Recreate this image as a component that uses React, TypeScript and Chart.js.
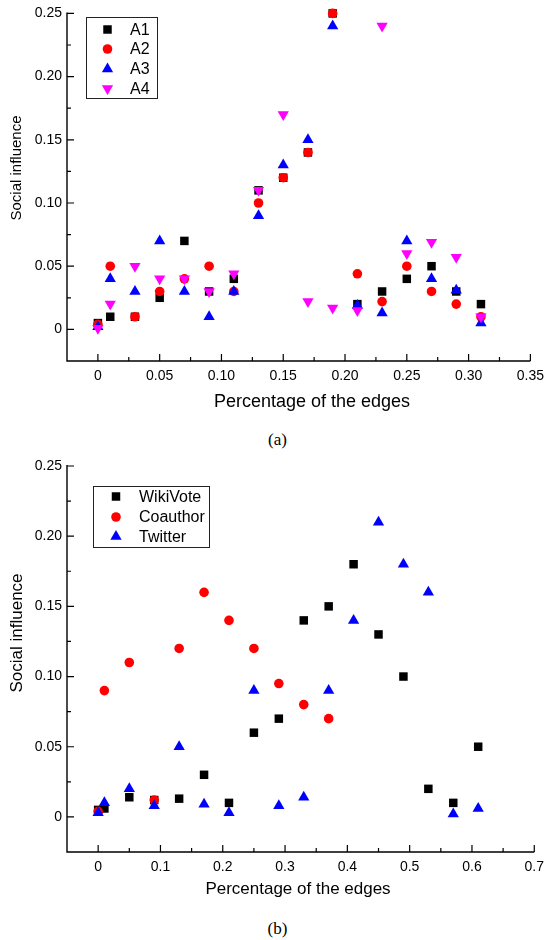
import React, { useEffect, useRef } from "react";
import { Chart, registerables } from "chart.js";
Chart.register(...registerables);

const SANS = "'Liberation Sans', Arial, Helvetica, sans-serif";
const SERIF = "'Liberation Serif', 'Times New Roman', serif";

// ---------- Panel (a) data ----------
const edgesA = [0, 0.01, 0.03, 0.05, 0.07, 0.09, 0.11, 0.13, 0.15, 0.17, 0.19, 0.21, 0.23, 0.25, 0.27, 0.29, 0.31];
const seriesA1 = [0.005, 0.01, 0.01, 0.025, 0.07, 0.03, 0.04, 0.11, 0.12, 0.14, 0.25, 0.02, 0.03, 0.04, 0.05, 0.03, 0.02];
const seriesA2 = [0.004, 0.05, 0.01, 0.03, 0.04, 0.05, 0.03, 0.10, 0.12, 0.14, 0.25, 0.044, 0.022, 0.05, 0.03, 0.02, 0.01];
const seriesA3 = [0.002, 0.04, 0.03, 0.07, 0.03, 0.01, 0.03, 0.09, 0.13, 0.15, 0.24, 0.019, 0.013, 0.07, 0.04, 0.031, 0.005];
const seriesA4 = [0.001, 0.02, 0.05, 0.04, 0.04, 0.03, 0.044, 0.11, 0.17, 0.022, 0.017, 0.015, 0.24, 0.06, 0.069, 0.057, 0.01];
const namesA = ["A1", "A2", "A3", "A4"];
const xTicksA = ["0", "0.05", "0.10", "0.15", "0.20", "0.25", "0.30", "0.35"];

// ---------- Panel (b) data ----------
const edgesB = [0, 0.01, 0.05, 0.09, 0.13, 0.17, 0.21, 0.25, 0.29, 0.33, 0.37, 0.41, 0.45, 0.49, 0.53, 0.57, 0.61];
const wikiVote = [0.005, 0.006, 0.014, 0.012, 0.013, 0.03, 0.01, 0.06, 0.07, 0.14, 0.15, 0.18, 0.13, 0.10, 0.02, 0.01, 0.05];
const coauthorEdges = [0, 0.01, 0.05, 0.09, 0.13, 0.17, 0.21, 0.25, 0.29, 0.33, 0.37];
const coauthor = [0.004, 0.09, 0.11, 0.012, 0.12, 0.16, 0.14, 0.12, 0.095, 0.08, 0.07];
const twitter = [0.003, 0.01, 0.02, 0.008, 0.05, 0.009, 0.003, 0.09, 0.008, 0.014, 0.09, 0.14, 0.21, 0.18, 0.16, 0.002, 0.006];
const namesB = ["WikiVote", "Coauthor", "Twitter"];
const xTicksB = ["0", "0.1", "0.2", "0.3", "0.4", "0.5", "0.6", "0.7"];

const yTicks = ["0", "0.05", "0.10", "0.15", "0.20", "0.25"];

type Marker = { shape: "rect" | "circle" | "triangle"; down?: boolean; r: number; color: string };
const SQUARE: Marker = { shape: "rect", r: 6, color: "#000000" };
const CIRCLE: Marker = { shape: "circle", r: 4.8, color: "#FF0000" };
const TRI_UP: Marker = { shape: "triangle", r: 6.5, color: "#0000FF" };
const TRI_DOWN: Marker = { shape: "triangle", down: true, r: 6.5, color: "#FF00FF" };

type Series = { label: string; x: number[]; y: number[]; m: Marker };

type Panel = {
  width: number;
  height: number;
  series: Series[];
  xMin: number;
  xMax: number;
  xStep: number;
  xMajor: number;
  xLabels: string[];
  padTop: number;
  padRight: number;
  plotBottom: number;
  xTitle: { x: number; y: number; size: number };
  yTitle: { x: number; y: number; size: number };
  legend: { x0: number; y0: number; x1: number; y1: number; mx: number; tx: number; rows: number[] };
};

function majorIndex(v: number, step: number): number {
  const k = Math.round(v / step);
  if (Math.abs(k * step - v) < 1e-7 && k >= 0) return k;
  return -1;
}

function drawMarker(ctx: CanvasRenderingContext2D, m: Marker, x: number, y: number) {
  ctx.fillStyle = m.color;
  ctx.beginPath();
  if (m.shape === "rect") {
    const s = m.r * Math.SQRT1_2;
    ctx.rect(x - s, y - s, 2 * s, 2 * s);
  } else if (m.shape === "circle") {
    ctx.arc(x, y, m.r, 0, Math.PI * 2);
  } else {
    const w = (m.r * Math.sqrt(3)) / 2;
    if (m.down) {
      ctx.moveTo(x, y + m.r);
      ctx.lineTo(x - w, y - m.r / 2);
      ctx.lineTo(x + w, y - m.r / 2);
    } else {
      ctx.moveTo(x, y - m.r);
      ctx.lineTo(x + w, y + m.r / 2);
      ctx.lineTo(x - w, y + m.r / 2);
    }
    ctx.closePath();
  }
  ctx.fill();
}

function decorPlugin(p: Panel) {
  return {
    id: "decor",
    afterDraw(chart: any) {
      const ctx: CanvasRenderingContext2D = chart.ctx;
      const { left, right, top, bottom } = chart.chartArea;
      const xs = chart.scales.x;
      const ys = chart.scales.y;
      ctx.save();
      ctx.strokeStyle = "#000";
      ctx.lineWidth = 1.4;
      ctx.beginPath();
      ctx.moveTo(left, top - 1);
      ctx.lineTo(left, bottom);
      ctx.lineTo(right, bottom);
      ctx.stroke();
      ctx.lineWidth = 1.2;
      ctx.beginPath();
      xs.ticks.forEach((t: any) => {
        const px = xs.getPixelForValue(t.value);
        if (px < left + 1) return;
        const len = majorIndex(t.value, p.xMajor) >= 0 ? 7 : 4;
        ctx.moveTo(px, bottom);
        ctx.lineTo(px, bottom - len);
      });
      ys.ticks.forEach((t: any) => {
        const py = ys.getPixelForValue(t.value);
        if (py > bottom - 1) return;
        const len = majorIndex(t.value, 0.05) >= 0 ? 7 : 4;
        ctx.moveTo(left, py);
        ctx.lineTo(left + len, py);
      });
      ctx.stroke();

      // axis titles
      ctx.fillStyle = "#000";
      ctx.textAlign = "center";
      ctx.textBaseline = "middle";
      ctx.font = `${p.xTitle.size}px ${SANS}`;
      ctx.fillText("Percentage of the edges", p.xTitle.x, p.xTitle.y);
      ctx.save();
      ctx.translate(p.yTitle.x, p.yTitle.y);
      ctx.rotate(-Math.PI / 2);
      ctx.font = `${p.yTitle.size}px ${SANS}`;
      ctx.fillText("Social influence", 0, 0);
      ctx.restore();

      // legend
      const L = p.legend;
      ctx.lineWidth = 1;
      ctx.strokeStyle = "#222";
      ctx.strokeRect(L.x0 + 0.5, L.y0 + 0.5, L.x1 - L.x0, L.y1 - L.y0);
      ctx.font = `16px ${SANS}`;
      ctx.textAlign = "left";
      p.series.forEach((s, i) => {
        drawMarker(ctx, s.m, L.mx, L.rows[i]);
        ctx.fillStyle = "#000";
        ctx.fillText(s.label, L.tx, L.rows[i] + 1);
      });
      ctx.restore();
    },
  };
}

function buildChart(canvas: HTMLCanvasElement, p: Panel) {
  const n = p.series.length;
  const datasets = p.series.map((s, i) => ({
    label: s.label,
    data: s.x.map((x, j) => ({ x, y: s.y[j] })),
    showLine: false,
    clip: false as any,
    order: n - i,
    pointStyle: s.m.shape,
    pointRotation: s.m.down ? 180 : 0,
    pointRadius: s.m.r,
    pointHoverRadius: s.m.r,
    pointBackgroundColor: s.m.color,
    pointBorderColor: s.m.color,
    pointBorderWidth: 0,
    backgroundColor: s.m.color,
    borderColor: s.m.color,
  }));
  return new Chart(canvas, {
    type: "scatter",
    data: { datasets },
    plugins: [decorPlugin(p)],
    options: {
      responsive: false,
      animation: false,
      devicePixelRatio: 1,
      layout: { padding: { left: 0, top: p.padTop, right: p.padRight, bottom: 0 } },
      plugins: { legend: { display: false }, tooltip: { enabled: false } },
      scales: {
        x: {
          type: "linear",
          min: p.xMin,
          max: p.xMax,
          grid: { display: false, drawTicks: false, tickLength: 0 },
          border: { display: false },
          ticks: {
            stepSize: p.xStep,
            autoSkip: false,
            maxRotation: 0,
            minRotation: 0,
            padding: 7,
            color: "#000",
            font: { family: SANS, size: 14 },
            callback: (v: any) => {
              const k = majorIndex(Number(v), p.xMajor);
              return k >= 0 ? p.xLabels[k] ?? "" : "";
            },
          },
          afterFit: (s: any) => {
            s.height = p.height - p.plotBottom;
          },
        },
        y: {
          type: "linear",
          min: -0.025,
          max: 0.25,
          grid: { display: false, drawTicks: false, tickLength: 0 },
          border: { display: false },
          ticks: {
            stepSize: 0.025,
            autoSkip: false,
            padding: 5,
            color: "#000",
            font: { family: SANS, size: 14 },
            callback: (v: any) => {
              const k = majorIndex(Number(v), 0.05);
              return k >= 0 ? yTicks[k] ?? "" : "";
            },
          },
          afterFit: (s: any) => {
            s.width = 67;
          },
        },
      },
    } as any,
  });
}

function PanelChart({ p, top }: { p: Panel; top: number }) {
  const ref = useRef<HTMLCanvasElement | null>(null);
  useEffect(() => {
    if (!ref.current) return;
    const c = buildChart(ref.current, p);
    return () => c.destroy();
  }, [p]);
  return (
    <canvas
      ref={ref}
      width={p.width}
      height={p.height}
      style={{ position: "absolute", left: 0, top, width: p.width, height: p.height, display: "block" }}
    />
  );
}

const panelA: Panel = {
  width: 551,
  height: 415,
  series: [
    { label: namesA[0], x: edgesA, y: seriesA1, m: SQUARE },
    { label: namesA[1], x: edgesA, y: seriesA2, m: CIRCLE },
    { label: namesA[2], x: edgesA, y: seriesA3, m: TRI_UP },
    { label: namesA[3], x: edgesA, y: seriesA4, m: TRI_DOWN },
  ],
  xMin: -0.025,
  xMax: 0.35,
  xStep: 0.025,
  xMajor: 0.05,
  xLabels: xTicksA,
  padTop: 13,
  padRight: 14.5,
  plotBottom: 361,
  xTitle: { x: 312, y: 402, size: 18 },
  yTitle: { x: 17, y: 168, size: 15 },
  legend: { x0: 86, y0: 17, x1: 157, y1: 98, mx: 107.5, tx: 130, rows: [29.5, 49, 69, 88.5] },
};

const panelB: Panel = {
  width: 551,
  height: 460,
  series: [
    { label: namesB[0], x: edgesB, y: wikiVote, m: SQUARE },
    { label: namesB[1], x: coauthorEdges, y: coauthor, m: CIRCLE },
    { label: namesB[2], x: edgesB, y: twitter, m: TRI_UP },
  ],
  xMin: -0.05,
  xMax: 0.7,
  xStep: 0.05,
  xMajor: 0.1,
  xLabels: xTicksB,
  padTop: 16,
  padRight: 9,
  plotBottom: 402,
  xTitle: { x: 298, y: 439, size: 17 },
  yTitle: { x: 17, y: 183, size: 17 },
  legend: { x0: 93, y0: 36, x1: 209, y1: 97, mx: 116, tx: 139, rows: [46.5, 67, 86.5] },
};

export default function App() {
  const cap: React.CSSProperties = {
    position: "absolute",
    left: 0,
    width: 555,
    textAlign: "center",
    fontFamily: SERIF,
    fontSize: 17,
    lineHeight: "20px",
    color: "#000",
  };
  return (
    <div style={{ position: "absolute", left: 0, top: 0, width: 551, height: 940, background: "#fff", overflow: "hidden" }}>
      <PanelChart p={panelA} top={0} />
      <div style={{ ...cap, top: 430 }}>(a)</div>
      <PanelChart p={panelB} top={450} />
      <div style={{ ...cap, top: 919 }}>(b)</div>
    </div>
  );
}
